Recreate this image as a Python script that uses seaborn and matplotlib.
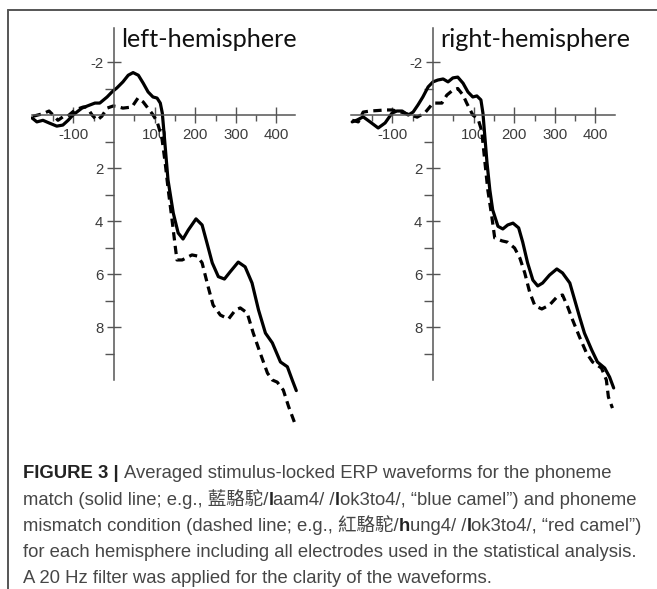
import matplotlib
matplotlib.use("Agg")
import matplotlib.pyplot as plt
import seaborn as sns
import pandas as pd
from matplotlib.ticker import FixedLocator, FixedFormatter, NullFormatter
from matplotlib.lines import Line2D

# ---------------- data ----------------
left_match_t = [-202, -190, -175, -160, -141, -126, -113, -101, -79, -59, -47, -35, -17, -5, 7, 22, 35, 47,
                60, 72, 84, 96, 106, 114, 119, 125, 133, 146, 158, 170, 183, 202, 217, 229, 242, 257, 272,
                286, 306, 323, 340, 356, 373, 390, 410, 427, 439, 449]
left_match_v = [0.11, 0.26, 0.20, 0.30, 0.42, 0.38, 0.20, 0.0, -0.26, -0.38, -0.45, -0.45, -0.68, -0.87, -1.02,
                -1.25, -1.50, -1.60, -1.50, -1.20, -0.87, -0.68, -0.64, -0.45, -0.07, 1.0, 2.45, 3.7, 4.45, 4.68,
                4.34, 3.92, 4.15, 4.83, 5.58, 6.10, 6.19, 5.92, 5.55, 5.73, 6.34, 7.36, 8.23, 8.60, 9.32, 9.50,
                10.0, 10.4]

left_mismatch_t = [-200, -175, -160, -150, -138, -126, -116, -96, -76, -67, -54, -42, -30, -17, -2, 7, 22, 44,
                   59, 72, 94, 106, 118, 126, 133, 143, 151, 155, 168, 192, 205, 217, 232, 244, 262, 282, 299,
                   311, 328, 343, 360, 378, 390, 402, 417, 430, 447]
left_mismatch_v = [0.05, -0.05, -0.15, 0.0, 0.2, 0.07, 0.07, -0.19, -0.3, -0.3, 0.0, 0.2, 0.05, -0.26, -0.34,
                   -0.32, -0.26, -0.3, -0.64, -0.49, -0.05, 0.24, 0.87, 1.8, 2.75, 3.96, 4.98, 5.47, 5.47, 5.28,
                   5.32, 5.58, 6.49, 7.17, 7.55, 7.70, 7.36, 7.28, 7.47, 8.23, 8.98, 9.74, 10.0, 10.08, 10.38,
                   11.0, 11.7]

right_match_t = [-199, -187, -172, -155, -135, -118, -101, -89, -76, -61, -49, -37, -25, -12, 0, 12, 25, 37,
                 49, 61, 74, 86, 98, 108, 118, 123, 133, 140, 147, 160, 172, 184, 197, 211, 221, 233, 246, 258,
                 270, 287, 305, 319, 337, 349, 361, 373, 391, 405, 423, 435, 445]
right_match_v = [0.26, 0.19, 0.07, 0.26, 0.49, 0.30, -0.07, -0.15, -0.15, 0.0, -0.11, -0.38, -0.68, -1.06,
                 -1.25, -1.32, -1.36, -1.25, -1.40, -1.43, -1.20, -0.87, -0.68, -0.72, -0.57, -0.07, 1.8, 2.83,
                 3.58, 4.2, 4.3, 4.15, 4.08, 4.26, 4.8, 5.58, 6.23, 6.45, 6.34, 6.04, 5.81, 5.96, 6.34, 6.98,
                 7.62, 8.23, 8.87, 9.32, 9.55, 9.89, 10.3]

right_mismatch_t = [-199, -184, -172, -155, -135, -118, -101, -89, -76, -56, -39, -20, -8, 0, 22, 34, 49, 61,
                    74, 83, 98, 111, 120, 128, 135, 145, 152, 170, 184, 201, 214, 226, 238, 251, 268, 287, 305,
                    319, 332, 344, 361, 378, 393, 415, 427, 432, 442]
right_mismatch_v = [0.2, 0.26, -0.11, -0.15, -0.17, -0.19, -0.19, -0.15, -0.1, 0.0, 0.08, -0.08, -0.3, -0.45,
                    -0.45, -0.75, -0.94, -1.0, -0.75, -0.45, 0.0, 0.15, 0.6, 1.8, 2.83, 3.85, 4.64, 4.75, 4.8,
                    5.02, 5.4, 5.96, 6.68, 7.2, 7.32, 7.17, 6.87, 6.79, 7.25, 7.74, 8.38, 8.98, 9.32, 9.55, 10.0,
                    10.64, 11.06]

panel_titles = ["left-hemisphere", "right-hemisphere"]
conditions = ["match", "mismatch"]

x_major = [-100, 100, 200, 300, 400]
x_major_labels = ["-100", "100", "200", "300", "400"]
x_minor = [-150, -50, 50, 150, 250, 350]
y_major = [-2, 2, 4, 6, 8]
y_major_labels = ["-2", "2", "4", "6", "8"]
y_minor = [-1, 1, 3, 5, 7, 9]

caption_lines = [
    [("FIGURE 3 |", True), (" Averaged stimulus-locked ERP waveforms for the phoneme", False)],
    [("match (solid line; e.g., 藍駱駝/", False), ("l", True), ("aam4/ /", False), ("l", True),
     ("ok3to4/, \u201cblue camel\u201d) and phoneme", False)],
    [("mismatch condition (dashed line; e.g., 紅駱駝/", False), ("h", True), ("ung4/ /", False), ("l", True),
     ("ok3to4/, \u201cred camel\u201d)", False)],
    [("for each hemisphere including all electrodes used in the statistical analysis.", False)],
    [("A 20 Hz filter was applied for the clarity of the waveforms.", False)],
]

# ---------------- figure ----------------
sns.set_style("white")
plt.rcParams['font.family'] = ['Liberation Sans', 'Noto Sans CJK TC', 'DejaVu Sans']
plt.rcParams['axes.unicode_minus'] = False

W, H = 657, 589
fig = plt.figure(figsize=(W / 100, H / 100), dpi=100)
renderer = fig.canvas.get_renderer()

XLIM = (-205, 455)
YLIM = (12, -3.5)
PX_PER_MS = 0.406
PX_PER_UV = 26.5
ZERO_Y = 115
AXIS_COLOR = '#555555'
TICK_LABEL_COLOR = '#3c3c3c'


def make_axes(zero_x):
    left = zero_x + XLIM[0] * PX_PER_MS
    right = zero_x + XLIM[1] * PX_PER_MS
    top = ZERO_Y + YLIM[1] * PX_PER_UV
    bottom = ZERO_Y + YLIM[0] * PX_PER_UV
    return fig.add_axes([left / W, 1 - bottom / H, (right - left) / W, (bottom - top) / H])


panels = [
    (114, left_match_t, left_match_v, left_mismatch_t, left_mismatch_v, (-202, 447)),
    (433, right_match_t, right_match_v, right_mismatch_t, right_mismatch_v, (-202, 448)),
]

title_x = [121, 440]

for i, (zx, mt, mv, nt, nv, xb) in enumerate(panels):
    ax = make_axes(zx)
    ax.patch.set_alpha(0)
    df = pd.concat([
        pd.DataFrame({"time": mt, "amp": mv, "condition": conditions[0]}),
        pd.DataFrame({"time": nt, "amp": nv, "condition": conditions[1]}),
    ])
    sns.lineplot(data=df, x="time", y="amp", style="condition", ax=ax, color="black",
                 dashes={conditions[0]: "", conditions[1]: (2.6, 1.7)}, lw=2.3,
                 legend=False, errorbar=None, estimator=None, sort=False)
    ax.set_xlim(*XLIM)
    ax.set_ylim(*YLIM)
    ax.set_xlabel("")
    ax.set_ylabel("")
    for s in ["top", "right"]:
        ax.spines[s].set_visible(False)
    ax.spines["left"].set_position(("data", 0))
    ax.spines["bottom"].set_position(("data", 0))
    ax.spines["left"].set_bounds(-3.28, 10.0)
    ax.spines["bottom"].set_bounds(*xb)
    for s in ["left", "bottom"]:
        ax.spines[s].set_color(AXIS_COLOR)
        ax.spines[s].set_linewidth(1.1)

    ax.xaxis.set_major_locator(FixedLocator(x_major))
    ax.xaxis.set_major_formatter(FixedFormatter(x_major_labels))
    ax.xaxis.set_minor_locator(FixedLocator(x_minor))
    ax.xaxis.set_minor_formatter(NullFormatter())
    ax.yaxis.set_major_locator(FixedLocator(y_major))
    ax.yaxis.set_major_formatter(FixedFormatter(y_major_labels))
    ax.yaxis.set_minor_locator(FixedLocator(y_minor))
    ax.yaxis.set_minor_formatter(NullFormatter())

    ax.tick_params(axis='x', which='major', direction='inout', length=11, width=1.0,
                   color=AXIS_COLOR, labelsize=10.8, labelcolor=TICK_LABEL_COLOR, pad=4,
                   bottom=True)
    ax.tick_params(axis='x', which='minor', direction='out', length=4.5, width=1.0,
                   color=AXIS_COLOR, bottom=True)
    ax.tick_params(axis='y', which='major', direction='inout', length=10.5, width=1.0,
                   color=AXIS_COLOR, labelsize=10.8, labelcolor=TICK_LABEL_COLOR, pad=2.5, left=True)
    ax.tick_params(axis='y', which='minor', direction='out', length=6.5, width=1.0,
                   color=AXIS_COLOR, left=True)

# titles, sized so "left-hemisphere" spans ~176 px
t = fig.text(0, 0, panel_titles[0], fontsize=17, family=['Lato', 'DejaVu Sans'])
w0 = t.get_window_extent(renderer).width
t.remove()
title_size = 17 * 176 / w0
for tx, title in zip(title_x, panel_titles):
    fig.text(tx / W, 1 - 47 / H, title, fontsize=title_size, family=['Lato', 'DejaVu Sans'],
             va='baseline', ha='left', color='#111111')

# frame lines (top and left)
fig.add_artist(Line2D([8 / W, 1.0], [1 - 10 / H, 1 - 10 / H], transform=fig.transFigure,
                      color='#555555', lw=1.4))
fig.add_artist(Line2D([8 / W, 8 / W], [1 - 10 / H, 0.0], transform=fig.transFigure,
                      color='#555555', lw=1.4))

# caption
CAP_FAMILY = ['Liberation Sans', 'Noto Sans CJK TC', 'DejaVu Sans']


def text_width(s, size, bold=False):
    tt = fig.text(0, 0, s, fontsize=size, family=CAP_FAMILY, weight='bold' if bold else 'normal')
    w = tt.get_window_extent(renderer).width
    tt.remove()
    return w


def draw_segments(x_px, base_px, segments, size, draw=True):
    sp = text_width("x x", size) - text_width("xx", size)
    x = x_px
    for s, bold in segments:
        lead = len(s) - len(s.lstrip(' '))
        trail = len(s) - len(s.rstrip(' '))
        core = s.strip(' ')
        x += lead * sp
        if draw:
            tt = fig.text(x / W, 1 - base_px / H, core, fontsize=size, family=CAP_FAMILY,
                          weight='bold' if bold else 'normal',
                          color='#222222' if bold else '#464646', va='baseline', ha='left')
            x += tt.get_window_extent(renderer).width
        else:
            x += text_width(core, size, bold)
        x += trail * sp
    return x - x_px


base = 11.0
w_line1 = draw_segments(23, 478, caption_lines[0], base, draw=False)
cap_size = base * 590 / w_line1
baselines = [478, 505, 531, 557, 583]
for segs, b in zip(caption_lines, baselines):
    draw_segments(23, b, segs, cap_size)

fig.savefig("out.png", dpi=100)
